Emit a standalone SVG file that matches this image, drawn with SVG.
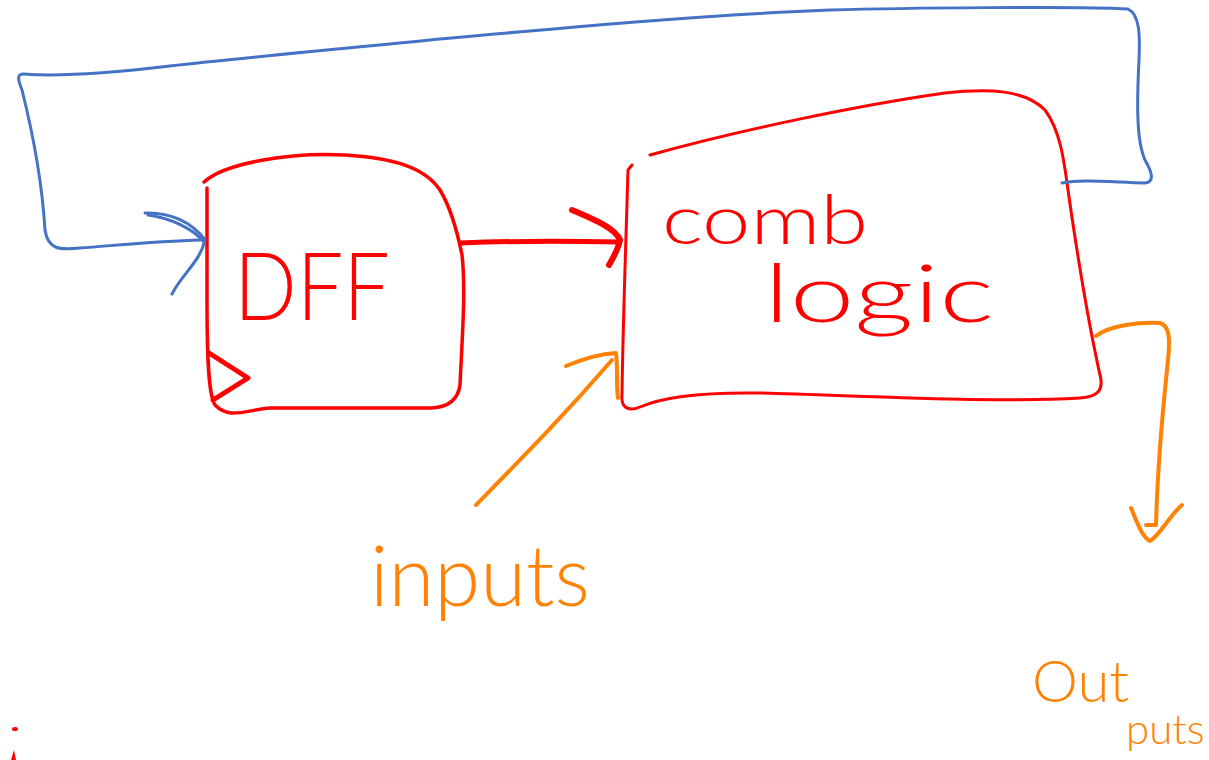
<svg xmlns="http://www.w3.org/2000/svg" width="1209" height="760" viewBox="0 0 1209 760">
  <style>
    .red { fill: none; stroke: #ff0000; stroke-linecap: round; stroke-linejoin: round; }
    .blue { fill: none; stroke: #4472c4; stroke-width: 3; stroke-linecap: round; stroke-linejoin: round; }
    .orange { fill: none; stroke: #ff8205; stroke-width: 4; stroke-linecap: round; stroke-linejoin: round; }
    .lbl-red { fill: #ff0000; font-family: "Lato", "Liberation Sans", sans-serif; font-weight: 300; }
    .lbl-orange { fill: #ff8205; font-family: "Lato", "Liberation Sans", sans-serif; font-weight: 300; }
  </style>
  <rect width="1209" height="760" fill="#ffffff"/>

  <!-- flip-flop block with clock wedge -->
  <g id="dff">
    <path class="red" stroke-width="3.5" d="M204,182 C225,163 290,152 345,155 C395,158 425,168 440,190 C452,210 458,235 462,255 C466,290 462,340 460,385 C458,400 448,407 432,408 L270,408 C245,410 230,420 215,405 C208,395 207,350 207,300 L207,188"/>
    <path class="red" stroke-width="5" d="M209,353 L248,378 L213,400"/>
    <text class="lbl-red" x="234" y="320" font-size="94" textLength="156" lengthAdjust="spacingAndGlyphs">DFF</text>
  </g>

  <!-- combinational logic block -->
  <g id="comb-logic">
    <path class="red" stroke-width="3" d="M650,155 C740,130 860,105 945,93 C990,88 1025,90 1045,110 C1060,130 1064,160 1068,190 C1078,260 1090,330 1100,375 C1104,390 1098,397 1080,398 C1000,403 870,396 760,393 C700,392 660,398 640,407 C626,413 621,405 622,395 C623,320 626,240 628,170 L632,165"/>
    <text class="lbl-red" x="662" y="244" font-size="68" textLength="206" lengthAdjust="spacingAndGlyphs">comb</text>
    <text class="lbl-red" x="764" y="322" font-size="80" textLength="230" lengthAdjust="spacingAndGlyphs">logic</text>
  </g>

  <!-- primary inputs label -->
  <g id="inputs">
    <text class="lbl-orange" x="370" y="606" font-size="84" textLength="220" lengthAdjust="spacingAndGlyphs">inputs</text>
  </g>

  <!-- primary outputs label -->
  <g id="outputs">
    <text class="lbl-orange" x="1032" y="702" font-size="58">Out</text>
    <text class="lbl-orange" x="1126" y="744" font-size="42">puts</text>
  </g>

  <g id="connectors">
    <!-- Q to comb logic -->
    <path class="red" stroke-width="5" d="M461,243 C510,241 570,241 618,242"/>
    <path class="red" stroke-width="6" d="M572,210 C595,220 615,228 620,240 C618,250 613,258 609,265"/>

    <!-- feedback from comb logic back to D -->
    <path class="blue" d="M1062,183 C1080,179 1110,182 1145,183 C1155,182 1152,172 1145,160 C1136,140 1137,100 1139,60 C1140,35 1140,15 1128,9 C1080,6 900,8 830,10 C700,15 560,28 430,40 C330,50 240,58 170,66 C110,73 60,77 25,74 C16,73 18,80 22,90 C32,130 42,180 45,230 C48,250 60,250 80,248 C120,245 160,241 200,240"/>
    <path class="blue" d="M145,213 C170,212 192,222 205,240 C200,262 182,274 172,294"/>
    <path class="blue" d="M148,215 C170,218 192,228 204,242"/>

    <!-- external inputs into comb logic -->
    <path class="orange" d="M476,505 C520,460 560,420 612,360"/>
    <path class="orange" stroke-width="5" d="M566,366 C585,358 600,354 616,353 C618,370 616,385 618,398"/>

    <!-- comb logic outputs -->
    <path class="orange" d="M1096,336 C1110,325 1140,322 1160,323 C1170,326 1170,340 1168,360 C1164,400 1158,450 1156,525 L1146,525"/>
    <path class="orange" d="M1131,508 C1137,522 1142,537 1150,541 C1160,535 1170,515 1182,505"/>
  </g>

  <!-- stray pen marks -->
  <ellipse cx="15" cy="729" rx="3" ry="2" fill="#ff0000"/>
  <path d="M11,760 L14,750 L16,760 Z" fill="#ff0000"/>
</svg>
